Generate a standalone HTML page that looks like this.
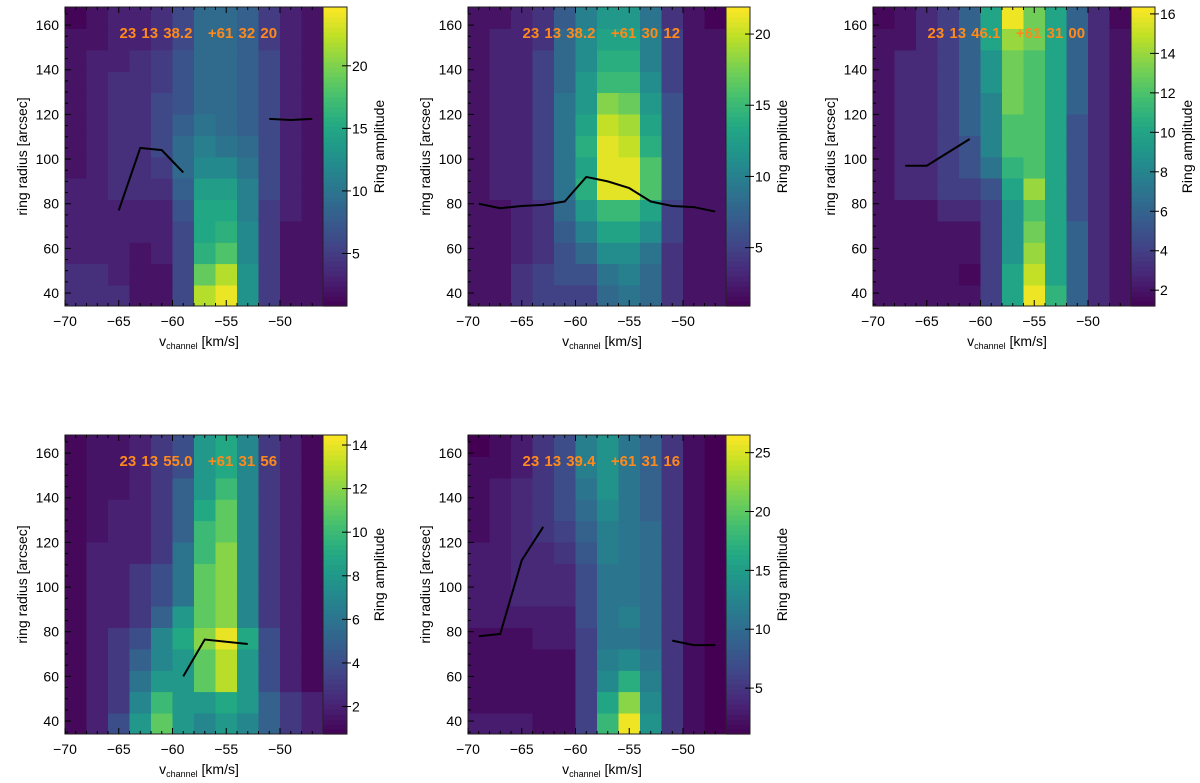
<!DOCTYPE html>
<html><head><meta charset="utf-8">
<style>
html,body{margin:0;padding:0;background:#fff;}
svg{display:block;font-family:"Liberation Sans",sans-serif;}
.plabel{white-space:pre;word-spacing:1px;}
</style></head>
<body>
<svg id="fig" width="1200" height="783" viewBox="0 0 1200 783" xmlns="http://www.w3.org/2000/svg"></svg>
<script>
// ---- data ----
const velocities = [-69,-67,-65,-63,-61,-59,-57,-55,-53,-51,-49,-47];
const radii = [38.8,48.4,58.0,67.5,77.1,86.7,96.3,105.8,115.4,125.0,134.6,144.1,153.7,163.3];
const labelsP1 = "23 13 38.2   +61 32 20";
const labelsP2 = "23 13 38.2   +61 30 12";
const labelsP3 = "23 13 46.1   +61 31 00";
const labelsP4 = "23 13 55.0   +61 31 56";
const labelsP5 = "23 13 39.4   +61 31 16";
const ampP1 = [
[4,4,4,2,2,6,22,24,13,5,2,2],[4,4,3,2,2,6,19,22,13,5,2,2],[3,3,3,2,3,6,16,18,12,5,2,2],
[3,3,3,3,3,6,15,16,12,5,2,2],[3,3,3,3,3,7,15,15,11,5,3,2],[3,3,4,4,4,8,14,14,11,6,3,2],
[2,3,4,4,5,9,12,12,10,6,3,2],[2,3,4,4,6,9,11,10,9,6,3,2],[2,3,4,4,6,8,10,9,8,6,3,2],
[2,3,4,4,6,7,9,9,8,6,3,2],[2,3,4,4,5,7,9,9,8,6,3,2],[2,3,3,4,5,7,9,9,8,6,3,2],
[2,2,3,3,4,6,9,9,8,5,3,2],[1,2,3,3,4,6,9,9,8,5,3,2]];
const ampP2 = [
[2,2,4,5,5,5,8,9,8,4,2,2],[2,2,4,5,6,6,9,10,8,4,2,2],[2,2,3,4,6,8,11,11,9,4,2,2],
[2,2,3,4,7,10,13,13,11,5,2,2],[2,2,3,4,8,12,15,15,13,5,2,2],[2,3,3,5,9,14,21,21,16,6,2,2],
[2,3,3,5,9,13,21,21,16,6,2,2],[2,3,3,5,9,14,21,20,14,6,2,2],[2,3,3,5,9,13,20,19,13,6,2,2],
[2,3,3,5,9,12,18,17,12,6,2,2],[2,3,3,5,8,12,15,15,11,5,2,2],[2,3,3,5,8,11,14,14,10,5,2,2],
[2,3,3,4,8,11,13,13,10,5,2,2],[2,2,3,4,7,10,12,12,9,4,2,1]];
const ampP3 = [
[2,2,2,2,2,4,10,16,11,6,3,2],[2,2,2,2,1.5,4,10,15,10,6,3,2],[2,2,2,2,2,4,9,14,10,6,3,2],
[2,2,2,2,2,4,9,13,10,6,3,2],[2,2,2,3,3,4,9,12,10,5,3,2],[2,3,3,4,4,5,10,14,10,5,3,2],
[2,3,3,4,5,7,11,12,10,5,3,2],[2,3,3,4,5,8,12,12,10,5,3,2],[2,3,3,4,6,8,12,12,10,5,3,2],
[2,3,3,4,6,8,13,12,10,6,3,2],[2,3,3,4,6,9,13,12,10,6,3,2],[2,3,3,4,6,9,13,12,10,6,3,2],
[2,2,3,4,6,10,14,13,10,6,3,2],[1.5,2,3,4,6,10,16,13,10,6,3,1.5]];
const ampP4 = [
[1,2,4,8,11,8,7,8,7,5,3,2],[1,2,3,7,10,8,8,9,8,5,3,2],[1,2,3,6,8,8,11,13,8,4,2,1],
[1,2,3,5,7,8,11,13,8,4,2,1],[1,2,3,4,7,9,12,14,9,4,2,1],[1,2,2,3,5,8,11,12,7,3,2,1],
[1,2,2,3,4,6,11,12,7,3,2,1],[1,2,2,3,4,6,11,12,7,3,2,1],[1,2,2,2,3,6,10,12,7,3,2,1],
[1,1.5,2,2,3,5,10,11,7,3,2,1],[1,1.5,2,2,3,5,9,11,7,3,2,1],[1,1.5,1.5,2,3,5,8,10,7,3,2,1],
[1,1.5,1.5,2,3,4,8,9,7,3,2,1],[1,1.5,1.5,2,3,4,8,9,7,3,2,1]];
const ampP5 = [
[3,3,3,2,2,6,18,26,14,5,2,1],[2,2,2,2,2,6,16,22,13,5,2,1],[2,2,2,2,2,6,13,17,12,5,2,1],
[2,2,2,2,2,6,12,13,11,5,2,1],[2,2,2,3,3,6,11,11,10,5,2,1],[3,3,3,3,3,7,11,12,10,5,2,1],
[3,3,4,4,4,7,11,11,10,5,2,1],[3,3,4,4,4,7,11,11,10,5,2,1],[3,3,4,4,5,8,12,11,10,5,2,1],
[2,3,4,5,6,9,12,11,10,5,2,1],[2,3,4,5,7,10,13,11,9,5,2,1],[2,3,4,5,7,11,14,11,9,5,2,1],
[2,2,3,5,7,12,14,11,9,5,2,1],[1,2,3,5,7,12,14,11,9,5,2,1]];
const lineP1 = [[[-65,77],[-63,105],[-61,104],[-59,94]],[[-51,118],[-49,117.5],[-47,118]]];
const lineP2 = [[[-69,80],[-67,78],[-65,79],[-63,79.5],[-61,81],[-59,92],[-57,90],[-55,87],[-53,81],[-51,79],[-49,78.5],[-47,76.5]]];
const lineP3 = [[[-67,97],[-65,97],[-61,109]]];
const lineP4 = [[[-59,60],[-57,76.5],[-53,74.5]]];
const lineP5 = [[[-69,78],[-67,79],[-65,112],[-63,127]],[[-51,76],[-49,74],[-47,74]]];
const cbTicksP1 = [5,10,15,20];
const cbTicksP2 = [5,10,15,20];
const cbTicksP3 = [2,4,6,8,10,12,14,16];
const cbTicksP4 = [2,4,6,8,10,12,14];
const cbTicksP5 = [5,10,15,20,25];
const cbRangeP1 = [0.8,24.7];
const cbRangeP2 = [0.9,21.9];
const cbRangeP3 = [1.2,16.35];
const cbRangeP4 = [0.74,14.46];
const cbRangeP5 = [1.1,26.5];
const xTicks = [-70,-65,-60,-55,-50];
const yTicks = [40,60,80,100,120,140,160];

// ---- drawing ----
const NS = "http://www.w3.org/2000/svg";
const svg = document.getElementById('fig');
const VIR = ["#440154","#482475","#414487","#355f8d","#2a788e","#21918c","#22a884","#44bf70","#7ad151","#bddf26","#fde725"];
function hex(h){return [parseInt(h.substr(1,2),16),parseInt(h.substr(3,2),16),parseInt(h.substr(5,2),16)];}
function viridis(t){
  t=Math.max(0,Math.min(1,t)); const p=t*10, i=Math.min(9,Math.floor(p)), f=p-i;
  const a=hex(VIR[i]), b=hex(VIR[i+1]);
  return `rgb(${a.map((v,k)=>Math.round(v+(b[k]-v)*f)).join(',')})`;
}
function mk(tag, attrs, parent){
  const e=document.createElementNS(NS,tag);
  for(const k in attrs) e.setAttribute(k,attrs[k]);
  (parent||svg).appendChild(e); return e;
}
const XMIN=-70, XMAX=-46, YMIN=34.2, YMAX=168.1;

function panel(idx, px, py, amp, lines, label, cbTicks, cbRange){
  const W=258, H=299, CBW=24;
  const g=mk('g',{});
  
  
  const xs=v=>px+(v-XMIN)/(XMAX-XMIN)*W;
  const ys=v=>py+H-(v-YMIN)/(YMAX-YMIN)*H;
  const cs=v=>(v-cbRange[0])/(cbRange[1]-cbRange[0]);
  const cellHalfY=(radii[1]-radii[0])/2, cellHalfX=(velocities[1]-velocities[0])/2;
  amp.forEach((row,ri)=>row.forEach((val,ci)=>{
    const x0=xs(velocities[ci]-cellHalfX), x1=xs(velocities[ci]+cellHalfX);
    const y0=ys(radii[ri]+cellHalfY), y1=ys(radii[ri]-cellHalfY);
    const r=mk('rect',{x:x0,y:Math.max(py,y0),width:x1-x0+0.5,height:Math.min(py+H,y1)-Math.max(py,y0)+0.5,fill:viridis(cs(val))},g);
    
    
  }));
  lines.forEach(seg=>{
    const p=mk('polyline',{points:seg.map(q=>xs(q[0])+','+ys(q[1])).join(' '),fill:'none',stroke:'#000','stroke-width':2},g);
    
    
  });
  const t=mk('text',{x:xs(-57.6),y:py+31,'text-anchor':'middle','font-size':15,'font-weight':'bold',fill:'#ff8a1c','class':'plabel'},g);
  t.textContent=label;
  
  
  const fr=mk('rect',{x:px,y:py,width:W+CBW,height:H,fill:'none',stroke:'#222','stroke-width':1},g);
  
  
  for(let v=-70; v<=-46; v++){
    const major=xTicks.includes(v); const L=major?6:3;
    mk('line',{x1:xs(v),x2:xs(v),y1:py+H,y2:py+H-L,stroke:'#000'},g);
    mk('line',{x1:xs(v),x2:xs(v),y1:py,y2:py+L,stroke:'#000'},g);
  }
  xTicks.forEach(v=>{
    const tl=mk('text',{x:xs(v),y:py+H+20,'text-anchor':'middle','font-size':14,fill:'#000'},g);
    tl.textContent='\u2212'+Math.abs(v);
    
    
  });
  for(let v=35; v<=165; v+=5){
    const major=yTicks.includes(v); const L=major?6:3;
    mk('line',{x1:px,x2:px+L,y1:ys(v),y2:ys(v),stroke:'#000'},g);
  }
  yTicks.forEach(v=>{
    const tl=mk('text',{x:px-6,y:ys(v)+5,'text-anchor':'end','font-size':14,fill:'#000'},g);
    tl.textContent=v;
    
    
  });
  const xt=mk('text',{x:px+W/2+5,y:py+H+40,'text-anchor':'middle','font-size':14,fill:'#000'},g);
  xt.innerHTML='v<tspan font-size="9" dy="3">channel</tspan><tspan dy="-3"> [km/s]</tspan>';
  
  
  const yt=mk('text',{x:0,y:0,transform:`translate(${px-38},${py+H/2}) rotate(-90)`,'text-anchor':'middle','font-size':14,fill:'#000'},g);
  yt.textContent='ring radius [arcsec]';
  
  
  const cx=px+W;
  const nSteps=60;
  for(let i=0;i<nSteps;i++){
    const r=mk('rect',{x:cx,y:py+H-(i+1)*H/nSteps,width:CBW,height:H/nSteps+0.6,fill:viridis((i+0.5)/nSteps)},g);
    
    
  }
  mk('rect',{x:cx,y:py,width:CBW,height:H,fill:'none',stroke:'#222'},g);
  const cy=v=>py+H-cs(v)*H;
  cbTicks.forEach(v=>{
    mk('line',{x1:cx+CBW,x2:cx+CBW-5,y1:cy(v),y2:cy(v),stroke:'#000'},g);
    mk('line',{x1:cx+CBW,x2:cx+CBW+4,y1:cy(v),y2:cy(v),stroke:'#000'},g);
    const tl=mk('text',{x:cx+CBW+5,y:cy(v)+5,'font-size':14,fill:'#000'},g);
    tl.textContent=v;
    
    
  });
  const ct=mk('text',{x:0,y:0,transform:`translate(${cx+CBW+37},${py+H/2-10}) rotate(-90)`,'text-anchor':'middle','font-size':14,fill:'#000'},g);
  ct.textContent='Ring amplitude';
  
  
}
panel(1,65,7,ampP1,lineP1,labelsP1,cbTicksP1,cbRangeP1);
panel(2,468,7,ampP2,lineP2,labelsP2,cbTicksP2,cbRangeP2);
panel(3,873,7,ampP3,lineP3,labelsP3,cbTicksP3,cbRangeP3);
panel(4,65,435,ampP4,lineP4,labelsP4,cbTicksP4,cbRangeP4);
panel(5,468,435,ampP5,lineP5,labelsP5,cbTicksP5,cbRangeP5);
</script>
</body></html>
